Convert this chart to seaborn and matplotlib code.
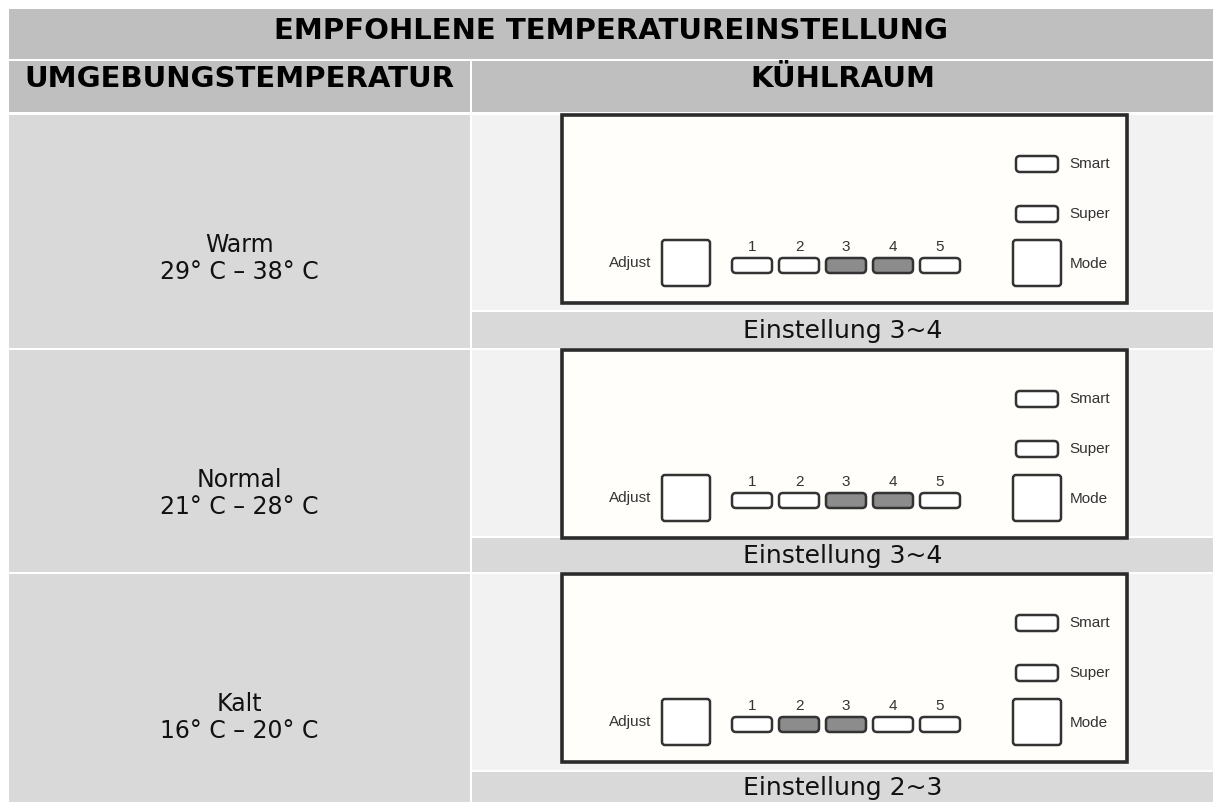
"""
Empfohlene Temperatureinstellung - table with control panel sketches.
"""

import matplotlib
matplotlib.use("Agg")
import matplotlib.pyplot as plt
from matplotlib.patches import Rectangle, FancyBboxPatch
import seaborn as sns

# Table content
header_title = "EMPFOHLENE TEMPERATUREINSTELLUNG"
col_headers = ["UMGEBUNGSTEMPERATUR", "KÜHLRAUM"]
climates = ["Warm", "Normal", "Kalt"]
temp_ranges = ["29° C – 38° C", "21° C – 28° C", "16° C – 20° C"]
setting_low = [3, 3, 2]
setting_high = [4, 4, 3]
levels = [1, 2, 3, 4, 5]
side_buttons = ["Smart", "Super"]

sns.set_theme(style="white")
plt.rcParams['font.family'] = ['DejaVu Sans']

# colours
HEAD = "#bfbfbf"
CELL = "#d9d9d9"
PANEL_BG = "#f2f2f2"
EDGE = "#2b2b2b"
ON = "#8c8c8c"

# layout in pixel units
W, H = 1213, 802
left, split = 9, 470
row_top = [115, 350, 574]
panel_bottom = [310, 536, 770]
row_bottom = [348, 572, 802]

fig = plt.figure(figsize=(W / 100, H / 100), dpi=100)
ax = fig.add_axes([0, 0, 1, 1])
ax.set_xlim(0, W)
ax.set_ylim(H, 0)
ax.axis('off')


def cell(x0, y0, x1, y1, color):
    ax.add_patch(Rectangle((x0, y0), x1 - x0, y1 - y0, facecolor=color,
                           edgecolor='none'))


def button(x, y, w, h, fill="white", r=4):
    ax.add_patch(FancyBboxPatch((x, y), w, h,
                                boxstyle=f"round,pad=0,rounding_size={r}",
                                facecolor=fill, edgecolor="#333333", lw=1.8))


def draw_panel(fx, fy, lo, hi):
    """Control panel drawing, fx/fy = top left of frame"""
    ax.add_patch(Rectangle((fx, fy), 565, 188, facecolor="#fffefb",
                           edgecolor=EDGE, lw=2.6))
    small = dict(family=['Liberation Sans', 'DejaVu Sans'], fontsize=11,
                 color="#333333", va='center')
    ax.text(fx + 68, fy + 148, "Adjust", ha='center', **small)
    button(fx + 100, fy + 125, 48, 46, r=3)
    for i, lv in enumerate(levels):
        bx = fx + 170 + i * 47
        fill = ON if lo <= lv <= hi else "white"
        button(bx, fy + 143, 40, 15, fill=fill)
        ax.text(bx + 20, fy + 132, str(lv), ha='center', **small)
    for j, name in enumerate(side_buttons):
        by = fy + 41 + j * 50
        button(fx + 454, by, 42, 16)
        ax.text(fx + 507, by + 8, name, ha='left', **small)
    button(fx + 451, fy + 125, 48, 46, r=3)
    ax.text(fx + 508, fy + 149, "Mode", ha='left', **small)


# header rows
cell(left, 9, W, 59, HEAD)
ax.text((left + W) / 2, 31, header_title, ha='center', va='center',
        fontsize=21, fontweight='bold', color='black')
cell(left, 61, split, 112, HEAD)
cell(split + 2, 61, W, 112, HEAD)
ax.text((left + split) / 2, 79, col_headers[0], ha='center', va='center',
        fontsize=21, fontweight='bold', color='black')
ax.text((split + 2 + W) / 2, 79, col_headers[1], ha='center', va='center',
        fontsize=21, fontweight='bold', color='black')

# body rows
for k in range(len(climates)):
    top, pb, bot = row_top[k], panel_bottom[k], row_bottom[k]
    cell(left, top, split, bot, CELL)
    ax.text((left + split) / 2, top + 130, climates[k], ha='center',
            va='center', fontsize=17, color='#111111')
    ax.text((left + split) / 2, top + 157, temp_ranges[k], ha='center',
            va='center', fontsize=17, color='#111111')
    cell(split + 2, top, W, pb, PANEL_BG)
    cell(split + 2, pb + 2, W, bot, CELL)
    ax.text((split + 2 + W) / 2, (pb + 2 + bot) / 2 + 1,
            f"Einstellung {setting_low[k]}~{setting_high[k]}",
            ha='center', va='center', fontsize=18, color='#111111')
    draw_panel(562, top, setting_low[k], setting_high[k])

fig.savefig("out.png", dpi=100, facecolor='white')
